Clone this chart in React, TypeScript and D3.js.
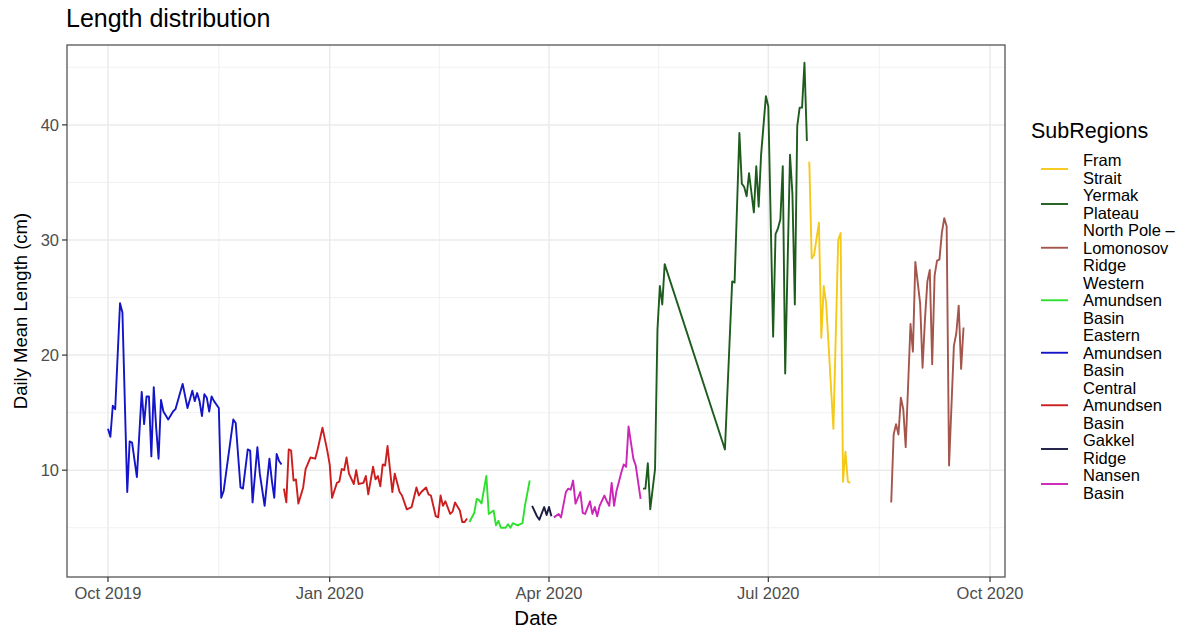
import React from "react";
import * as d3 from "d3";

type Pt = [string, number];

const subRegions = [
  "Fram Strait",
  "Yermak Plateau",
  "North Pole – Lomonosov Ridge",
  "Western Amundsen Basin",
  "Eastern Amundsen Basin",
  "Central Amundsen Basin",
  "Gakkel Ridge",
  "Nansen Basin",
];

const legendLines = [
  ["Fram", "Strait"],
  ["Yermak", "Plateau"],
  ["North Pole –", "Lomonosov", "Ridge"],
  ["Western", "Amundsen", "Basin"],
  ["Eastern", "Amundsen", "Basin"],
  ["Central", "Amundsen", "Basin"],
  ["Gakkel", "Ridge"],
  ["Nansen", "Basin"],
];

const regionColors = [
  "#F5C918",
  "#1E5C1E",
  "#A4554C",
  "#2EE02E",
  "#1414C8",
  "#CC1E1E",
  "#1C1C42",
  "#CC25B8",
];

const framStrait: Pt[] = [
  ["2020-07-18", 36.8], ["2020-07-19", 28.4], ["2020-07-20", 28.7], ["2020-07-22", 31.5],
  ["2020-07-23", 21.5], ["2020-07-24", 26.0], ["2020-07-25", 24.5], ["2020-07-28", 13.6],
  ["2020-07-30", 30.0], ["2020-07-31", 30.6], ["2020-08-01", 9.0], ["2020-08-02", 11.6],
  ["2020-08-03", 9.0], ["2020-08-04", 8.9],
];

const yermakPlateau: Pt[] = [
  ["2020-05-10", 8.4], ["2020-05-11", 8.4], ["2020-05-12", 10.6], ["2020-05-13", 6.6],
  ["2020-05-15", 10.1], ["2020-05-16", 22.2], ["2020-05-17", 26.0], ["2020-05-18", 24.4],
  ["2020-05-19", 27.9], ["2020-06-13", 11.8], ["2020-06-16", 26.4], ["2020-06-17", 26.3],
  ["2020-06-19", 39.3], ["2020-06-20", 34.9], ["2020-06-21", 34.6], ["2020-06-22", 33.8],
  ["2020-06-23", 35.8], ["2020-06-25", 32.4], ["2020-06-26", 36.4], ["2020-06-27", 32.9],
  ["2020-06-28", 37.4], ["2020-06-30", 42.5], ["2020-07-01", 41.6], ["2020-07-03", 21.6],
  ["2020-07-04", 30.5], ["2020-07-05", 31.0], ["2020-07-06", 31.8], ["2020-07-07", 36.4],
  ["2020-07-08", 18.4], ["2020-07-10", 37.4], ["2020-07-11", 34.0], ["2020-07-12", 24.4],
  ["2020-07-13", 39.9], ["2020-07-14", 41.5], ["2020-07-15", 41.5], ["2020-07-16", 45.4],
  ["2020-07-17", 38.6],
];

const northPoleLomonosov: Pt[] = [
  ["2020-08-21", 7.2], ["2020-08-22", 13.1], ["2020-08-23", 14.0], ["2020-08-24", 13.1],
  ["2020-08-25", 16.3], ["2020-08-26", 15.3], ["2020-08-27", 12.0], ["2020-08-29", 22.7],
  ["2020-08-30", 20.3], ["2020-08-31", 28.1], ["2020-09-02", 24.5], ["2020-09-03", 18.9],
  ["2020-09-04", 23.1], ["2020-09-05", 26.4], ["2020-09-06", 27.4], ["2020-09-07", 19.2],
  ["2020-09-08", 26.9], ["2020-09-09", 28.2], ["2020-09-10", 28.3], ["2020-09-11", 30.6],
  ["2020-09-12", 31.9], ["2020-09-13", 31.2], ["2020-09-14", 10.4], ["2020-09-16", 20.8],
  ["2020-09-17", 21.9], ["2020-09-18", 24.3], ["2020-09-19", 18.8], ["2020-09-20", 22.4],
];

const westernAmundsen: Pt[] = [
  ["2020-02-28", 5.5], ["2020-03-01", 6.3], ["2020-03-02", 7.5], ["2020-03-03", 7.4],
  ["2020-03-04", 7.1], ["2020-03-06", 9.5], ["2020-03-07", 6.2], ["2020-03-09", 6.5],
  ["2020-03-10", 5.2], ["2020-03-11", 5.6], ["2020-03-12", 5.0], ["2020-03-14", 5.0],
  ["2020-03-15", 5.3], ["2020-03-16", 5.0], ["2020-03-17", 5.4], ["2020-03-19", 5.2],
  ["2020-03-21", 5.4], ["2020-03-22", 6.9], ["2020-03-24", 9.1],
];

const easternAmundsen: Pt[] = [
  ["2019-10-01", 13.6], ["2019-10-02", 12.9], ["2019-10-03", 15.6], ["2019-10-04", 15.3],
  ["2019-10-06", 24.5], ["2019-10-07", 23.7], ["2019-10-09", 8.1], ["2019-10-10", 12.5],
  ["2019-10-11", 12.4], ["2019-10-13", 9.4], ["2019-10-15", 16.8], ["2019-10-16", 14.0],
  ["2019-10-17", 16.4], ["2019-10-18", 16.4], ["2019-10-19", 11.2], ["2019-10-20", 17.2],
  ["2019-10-21", 13.7], ["2019-10-22", 11.0], ["2019-10-23", 16.1], ["2019-10-24", 15.1],
  ["2019-10-26", 14.4], ["2019-10-28", 15.1], ["2019-10-29", 15.3], ["2019-11-01", 17.5],
  ["2019-11-03", 15.4], ["2019-11-05", 16.9], ["2019-11-06", 16.0], ["2019-11-07", 16.7],
  ["2019-11-08", 16.0], ["2019-11-09", 14.7], ["2019-11-10", 16.6], ["2019-11-11", 16.3],
  ["2019-11-12", 15.1], ["2019-11-13", 16.4], ["2019-11-14", 16.0], ["2019-11-16", 15.4],
  ["2019-11-17", 7.6], ["2019-11-18", 8.2], ["2019-11-22", 14.4], ["2019-11-23", 14.1],
  ["2019-11-25", 8.5], ["2019-11-26", 8.4], ["2019-11-28", 11.8], ["2019-11-29", 11.7],
  ["2019-11-30", 7.2], ["2019-12-02", 12.0], ["2019-12-03", 9.7], ["2019-12-05", 6.9],
  ["2019-12-07", 11.0], ["2019-12-08", 9.1], ["2019-12-09", 7.6], ["2019-12-10", 11.4],
  ["2019-12-11", 10.8], ["2019-12-12", 10.5],
];

const centralAmundsen: Pt[] = [
  ["2019-12-13", 8.4], ["2019-12-14", 7.2], ["2019-12-15", 11.8], ["2019-12-16", 11.7],
  ["2019-12-17", 9.1], ["2019-12-18", 9.2], ["2019-12-19", 7.1], ["2019-12-21", 8.5],
  ["2019-12-22", 10.1], ["2019-12-24", 11.1], ["2019-12-26", 11.0], ["2019-12-27", 11.8],
  ["2019-12-29", 13.7], ["2019-12-31", 11.7], ["2020-01-01", 10.5], ["2020-01-02", 7.6],
  ["2020-01-04", 8.9], ["2020-01-05", 9.0], ["2020-01-06", 10.1], ["2020-01-07", 10.0],
  ["2020-01-08", 11.1], ["2020-01-09", 9.7], ["2020-01-11", 8.8], ["2020-01-12", 10.0],
  ["2020-01-13", 8.8], ["2020-01-15", 8.9], ["2020-01-16", 9.5], ["2020-01-17", 7.9],
  ["2020-01-19", 10.3], ["2020-01-20", 9.2], ["2020-01-21", 9.5], ["2020-01-22", 8.6],
  ["2020-01-23", 10.5], ["2020-01-24", 10.4], ["2020-01-25", 12.1], ["2020-01-26", 10.1],
  ["2020-01-27", 8.1], ["2020-01-28", 9.7], ["2020-01-30", 8.1], ["2020-01-31", 7.8],
  ["2020-02-02", 6.6], ["2020-02-04", 6.8], ["2020-02-06", 8.5], ["2020-02-07", 7.8],
  ["2020-02-08", 8.1], ["2020-02-10", 8.5], ["2020-02-11", 7.9], ["2020-02-12", 7.8],
  ["2020-02-14", 6.0], ["2020-02-15", 5.9], ["2020-02-16", 7.8], ["2020-02-17", 6.9],
  ["2020-02-18", 7.3], ["2020-02-20", 6.2], ["2020-02-21", 6.4], ["2020-02-22", 7.2],
  ["2020-02-24", 6.5], ["2020-02-25", 5.5], ["2020-02-26", 5.5], ["2020-02-27", 5.8],
];

const gakkelRidge: Pt[] = [
  ["2020-03-25", 6.9], ["2020-03-27", 6.0], ["2020-03-28", 5.7], ["2020-03-30", 6.8],
  ["2020-03-31", 6.1], ["2020-04-01", 6.8], ["2020-04-02", 6.0],
];

const nansenBasin: Pt[] = [
  ["2020-04-03", 5.9], ["2020-04-05", 6.2], ["2020-04-06", 5.9], ["2020-04-08", 8.1],
  ["2020-04-09", 8.4], ["2020-04-10", 8.3], ["2020-04-11", 9.1], ["2020-04-12", 7.1],
  ["2020-04-14", 8.1], ["2020-04-15", 6.3], ["2020-04-16", 6.2], ["2020-04-18", 7.3],
  ["2020-04-19", 6.2], ["2020-04-20", 6.8], ["2020-04-21", 6.0], ["2020-04-22", 6.9],
  ["2020-04-24", 7.8], ["2020-04-25", 7.3], ["2020-04-26", 6.9], ["2020-04-27", 8.9],
  ["2020-04-28", 6.9], ["2020-04-29", 8.2], ["2020-05-01", 9.8], ["2020-05-02", 10.5],
  ["2020-05-03", 10.3], ["2020-05-04", 13.8], ["2020-05-05", 12.4], ["2020-05-06", 11.0],
  ["2020-05-07", 10.4], ["2020-05-09", 7.5],
];

const seriesData: Pt[][] = [
  framStrait,
  yermakPlateau,
  northPoleLomonosov,
  westernAmundsen,
  easternAmundsen,
  centralAmundsen,
  gakkelRidge,
  nansenBasin,
];

const xTickDates = ["2019-10-01", "2020-01-01", "2020-04-01", "2020-07-01", "2020-10-01"];
const yTicks = [10, 20, 30, 40];
const yMinorTicks = [5, 15, 25, 35, 45];

const W = 1186;
const H = 632;
const panel = { left: 67, right: 1005, top: 45, bottom: 577 };
const FONT = "'Liberation Sans', Arial, Helvetica, sans-serif";

export default function App() {
  const parse = d3.utcParse("%Y-%m-%d");
  const x = d3
    .scaleUtc()
    .domain([new Date(Date.UTC(2019, 8, 14)), new Date(Date.UTC(2020, 9, 7, 5))])
    .range([panel.left, panel.right]);
  const y = d3.scaleLinear().domain([0.72, 46.94]).range([panel.bottom, panel.top]);

  const xTicks = xTickDates.map((s) => parse(s) as Date);
  const xMinor = xTicks.slice(0, -1).map((d, i) => new Date((d.getTime() + xTicks[i + 1].getTime()) / 2));
  const fmt = d3.utcFormat("%b %Y");

  const line = d3
    .line<Pt>()
    .x((d) => x(parse(d[0]) as Date))
    .y((d) => y(d[1]));

  const legendX = 1041;
  const lineH = 17.5;
  let cursor = 151.5;
  const legendItems = legendLines.map((lines, i) => {
    const top = cursor;
    cursor += lines.length * lineH;
    return { lines, top, center: top + (lines.length * lineH) / 2, color: regionColors[i], name: subRegions[i] };
  });

  return (
    <svg
      width={W}
      height={H}
      style={{ position: "absolute", left: 0, top: 0, background: "#fff", fontFamily: FONT }}
    >
      <rect x={0} y={0} width={W} height={H} fill="#fff" />
      <text x={66} y={27} fontSize={25} fill="#000">
        Length distribution
      </text>

      {/* grid */}
      <g>
        {yMinorTicks.map((v) => (
          <line key={"ym" + v} x1={panel.left} x2={panel.right} y1={y(v)} y2={y(v)} stroke="#EEEEEE" strokeWidth={0.8} />
        ))}
        {xMinor.map((d, i) => (
          <line key={"xm" + i} x1={x(d)} x2={x(d)} y1={panel.top} y2={panel.bottom} stroke="#EEEEEE" strokeWidth={0.8} />
        ))}
        {yTicks.map((v) => (
          <line key={"y" + v} x1={panel.left} x2={panel.right} y1={y(v)} y2={y(v)} stroke="#EBEBEB" strokeWidth={1.5} />
        ))}
        {xTicks.map((d, i) => (
          <line key={"x" + i} x1={x(d)} x2={x(d)} y1={panel.top} y2={panel.bottom} stroke="#EBEBEB" strokeWidth={1.5} />
        ))}
      </g>

      {/* series */}
      <g fill="none" strokeWidth={1.9} strokeLinejoin="round" strokeLinecap="butt">
        {seriesData.map((s, i) => (
          <path key={subRegions[i]} d={line(s) || ""} stroke={regionColors[i]} />
        ))}
      </g>

      {/* panel border */}
      <rect
        x={panel.left}
        y={panel.top}
        width={panel.right - panel.left}
        height={panel.bottom - panel.top}
        fill="none"
        stroke="#555"
        strokeWidth={1.3}
      />

      {/* y axis */}
      <g>
        {yTicks.map((v) => (
          <g key={"yt" + v}>
            <line x1={panel.left - 5} x2={panel.left} y1={y(v)} y2={y(v)} stroke="#333" strokeWidth={1.2} />
            <text x={panel.left - 8} y={y(v)} dy="0.35em" textAnchor="end" fontSize={16.5} fill="#4D4D4D">
              {v}
            </text>
          </g>
        ))}
        <text
          transform={`translate(27, ${(panel.top + panel.bottom) / 2}) rotate(-90)`}
          textAnchor="middle"
          fontSize={18.5}
          fill="#000"
        >
          Daily Mean Length (cm)
        </text>
      </g>

      {/* x axis */}
      <g>
        {xTicks.map((d, i) => (
          <g key={"xt" + i}>
            <line x1={x(d)} x2={x(d)} y1={panel.bottom} y2={panel.bottom + 5} stroke="#333" strokeWidth={1.2} />
            <text x={x(d)} y={panel.bottom + 22} textAnchor="middle" fontSize={16.5} fill="#4D4D4D">
              {fmt(d)}
            </text>
          </g>
        ))}
        <text x={(panel.left + panel.right) / 2} y={625} textAnchor="middle" fontSize={20.5} fill="#000">
          Date
        </text>
      </g>

      {/* legend */}
      <g>
        <text x={1031} y={138} fontSize={21.5} fill="#000">
          SubRegions
        </text>
        {legendItems.map((it) => (
          <g key={it.name}>
            <line x1={legendX} x2={legendX + 27} y1={it.center} y2={it.center} stroke={it.color} strokeWidth={1.9} />
            {it.lines.map((t, j) => (
              <text
                key={j}
                x={1083}
                y={it.top + j * lineH + lineH / 2}
                dy="0.35em"
                fontSize={16.5}
                fill="#000"
              >
                {t}
              </text>
            ))}
          </g>
        ))}
      </g>
    </svg>
  );
}
